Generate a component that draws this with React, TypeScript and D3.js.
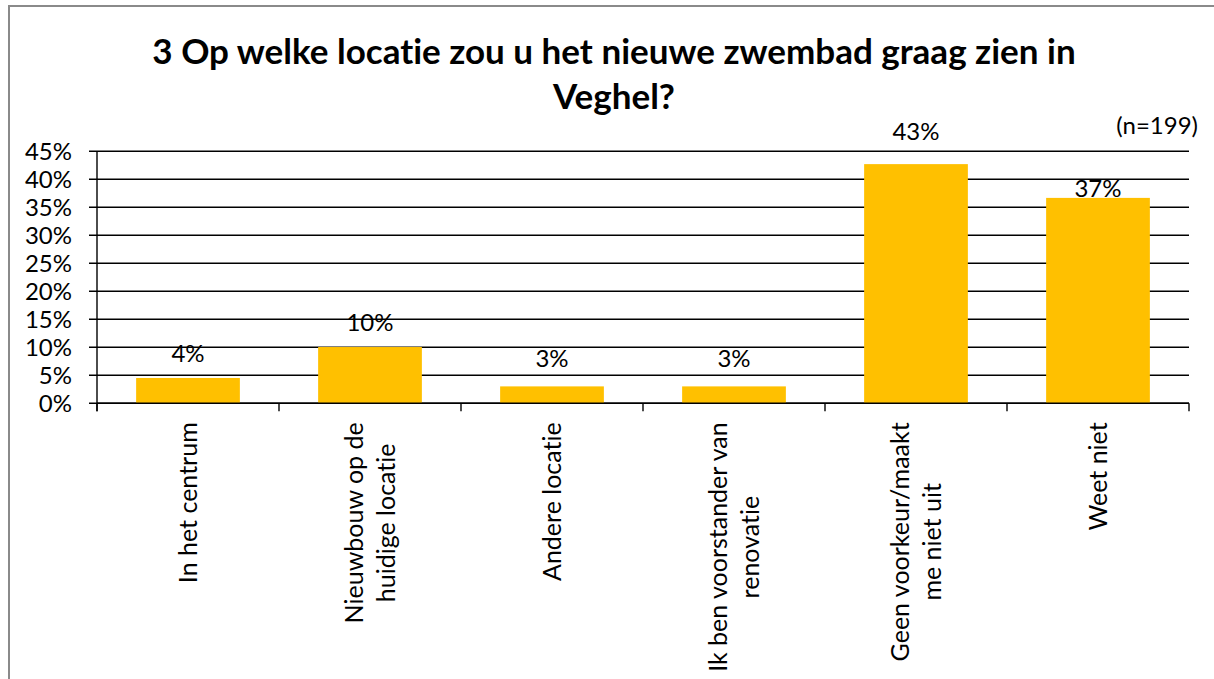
import React, { useEffect, useRef } from "react";
import * as d3 from "d3";

const titleLines = ["3 Op welke locatie zou u het nieuwe zwembad graag zien in", "Veghel?"];
const sampleNote = "(n=199)";
const categories = [
  ["In het centrum"],
  ["Nieuwbouw op de", "huidige locatie"],
  ["Andere locatie"],
  ["Ik ben voorstander van", "renovatie"],
  ["Geen voorkeur/maakt", "me niet uit"],
  ["Weet niet"],
];
const values = [4.52, 10.05, 3.02, 3.02, 42.71, 36.68];
const valueLabels = ["4%", "10%", "3%", "3%", "43%", "37%"];
const yTicks = [0, 5, 10, 15, 20, 25, 30, 35, 40, 45];
// label lift above bar top (px), matching the manual placement in the reference
const labelLift = [25, 25, 28, 28, 33, 10];

const W = 1214;
const H = 679;
const FONT = "Lato, 'Open Sans', sans-serif";

export default function App() {
  const ref = useRef<SVGSVGElement>(null);

  useEffect(() => {
    const svg = d3.select(ref.current);
    svg.selectAll("*").remove();
    svg.style("font-variant-ligatures", "none").style("font-feature-settings", "'liga' 0, 'clig' 0");

    const left = 97, right = 1189, top = 151.3, bottom = 403.3;
    const x = d3.scaleBand<number>()
      .domain(d3.range(categories.length))
      .range([left, right])
      .paddingInner(0.43)
      .paddingOuter(0.215);
    const y = d3.scaleLinear().domain([0, 45]).range([bottom, top]);
    const step = (right - left) / categories.length;

    // border
    svg.append("rect")
      .attr("x", 9).attr("y", 6).attr("width", 1212).attr("height", 690)
      .attr("fill", "#fff").attr("stroke", "#8a8a8a").attr("stroke-width", 2);

    // title
    const title = svg.append("text")
      .attr("font-family", FONT).attr("font-weight", "bold").attr("font-size", 35)
      .attr("text-anchor", "middle").attr("fill", "#000");
    titleLines.forEach((t, i) => {
      title.append("tspan").attr("x", 614).attr("y", 64 + i * 45).text(t);
    });

    // n note
    svg.append("text")
      .attr("x", 1198).attr("y", 134).attr("text-anchor", "end")
      .attr("font-family", FONT).attr("font-size", 24).attr("fill", "#000")
      .text(sampleNote);

    // gridlines + y ticks
    const g = svg.append("g");
    yTicks.forEach((t) => {
      g.append("line")
        .attr("x1", left - 8).attr("x2", right)
        .attr("y1", y(t)).attr("y2", y(t))
        .attr("stroke", "#000").attr("stroke-width", 1.4);
      g.append("text")
        .attr("x", 72).attr("y", y(t)).attr("dy", "0.36em")
        .attr("text-anchor", "end")
        .attr("font-family", FONT).attr("font-size", 24).attr("fill", "#000")
        .text(`${t}%`);
    });

    // bars
    svg.append("g").selectAll("rect").data(values).join("rect")
      .attr("x", (_d, i) => x(i)!)
      .attr("width", x.bandwidth())
      .attr("y", (d) => y(d))
      .attr("height", (d) => y(0) - y(d))
      .attr("fill", "#FFC000");

    // axes lines
    svg.append("line")
      .attr("x1", left).attr("x2", left).attr("y1", top).attr("y2", bottom + 8)
      .attr("stroke", "#000").attr("stroke-width", 1.4);
    svg.append("line")
      .attr("x1", left).attr("x2", right).attr("y1", bottom).attr("y2", bottom)
      .attr("stroke", "#000").attr("stroke-width", 1.4);
    d3.range(categories.length + 1).forEach((k) => {
      svg.append("line")
        .attr("x1", left + k * step).attr("x2", left + k * step)
        .attr("y1", bottom).attr("y2", bottom + 8)
        .attr("stroke", "#000").attr("stroke-width", 1.4);
    });

    // value labels
    svg.append("g").selectAll("text").data(values).join("text")
      .attr("x", (_d, i) => x(i)! + x.bandwidth() / 2)
      .attr("y", (d, i) => y(d) - labelLift[i])
      .attr("dy", "0.36em")
      .attr("text-anchor", "middle")
      .attr("font-family", FONT).attr("font-size", 24).attr("fill", "#000")
      .text((_d, i) => valueLabels[i]);

    // category labels (rotated)
    const labelTop = bottom + 19;
    const lineGap = 32;
    categories.forEach((lines, i) => {
      const cx = x(i)! + x.bandwidth() / 2;
      const grp = svg.append("g");
      const texts = lines.map((ln) =>
        grp.append("text")
          .attr("font-family", FONT).attr("font-size", 25).attr("fill", "#000")
          .attr("text-anchor", "middle")
          .text(ln)
      );
      const maxW = d3.max(texts, (t) => (t.node() as SVGTextElement).getComputedTextLength()) || 0;
      const centerY = labelTop + maxW / 2;
      const n = lines.length;
      texts.forEach((t, j) => {
        const lx = cx + (j - (n - 1) / 2) * lineGap;
        t.attr("transform", `translate(${lx},${centerY}) rotate(-90)`)
          .attr("x", 0).attr("y", 0).attr("dy", "0.36em");
      });
    });
  }, []);

  return (
    <svg
      ref={ref}
      width={W}
      height={H}
      style={{ position: "absolute", left: 0, top: 0, display: "block", background: "#fff" }}
    />
  );
}
